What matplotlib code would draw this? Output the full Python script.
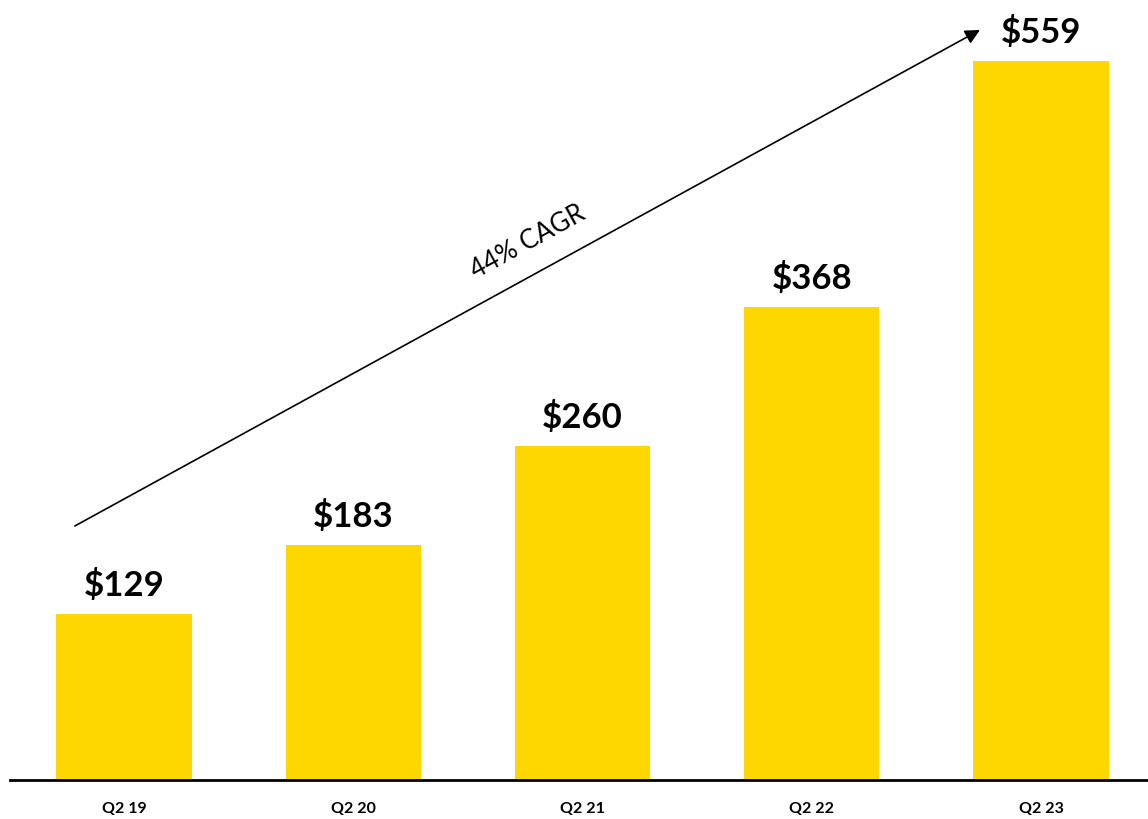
import matplotlib.pyplot as plt

# quarterly values ($)
quarters = ["Q2 19", "Q2 20", "Q2 21", "Q2 22", "Q2 23"]
values = [129, 183, 260, 368, 559]
cagr_label = "44% CAGR"

bar_color = "#FFD700"
plt.rcParams['font.family'] = ['Lato', 'DejaVu Sans']

fig = plt.figure(figsize=(11.48, 8.19), dpi=100)
ax = fig.add_axes([10 / 1148, 39 / 819, 1138 / 1148, 780 / 819])

x = range(len(values))
ax.bar(x, values, width=0.59, color=bar_color, zorder=2)

ax.set_xlim(-0.497, 4.467)
ax.set_ylim(0, 606.4)

# value labels above each bar
for xi, v in zip(x, values):
    ax.annotate(f"${v}", (xi, v), xytext=(0, 13), textcoords="offset points",
                ha="center", va="baseline", fontsize=25, fontweight="bold")

# growth arrow
ax.annotate("", xy=(3.734, 583.1), xytext=(-0.214, 197.5),
            arrowprops=dict(arrowstyle="-|>", color="black", lw=1.2,
                            mutation_scale=22, shrinkA=0, shrinkB=0))
ax.text(1.76, 418, cagr_label, rotation=28.7, rotation_mode="anchor",
        ha="center", va="center", fontsize=18.5)

# axes styling
for side in ["top", "right", "left"]:
    ax.spines[side].set_visible(False)
ax.spines["bottom"].set_linewidth(2)
ax.set_yticks([])
ax.set_xticks(list(x))
ax.set_xticklabels(quarters, fontsize=11.5, fontweight="bold")
ax.tick_params(axis="x", length=0, pad=16)

fig.savefig("out.png", dpi=100)
